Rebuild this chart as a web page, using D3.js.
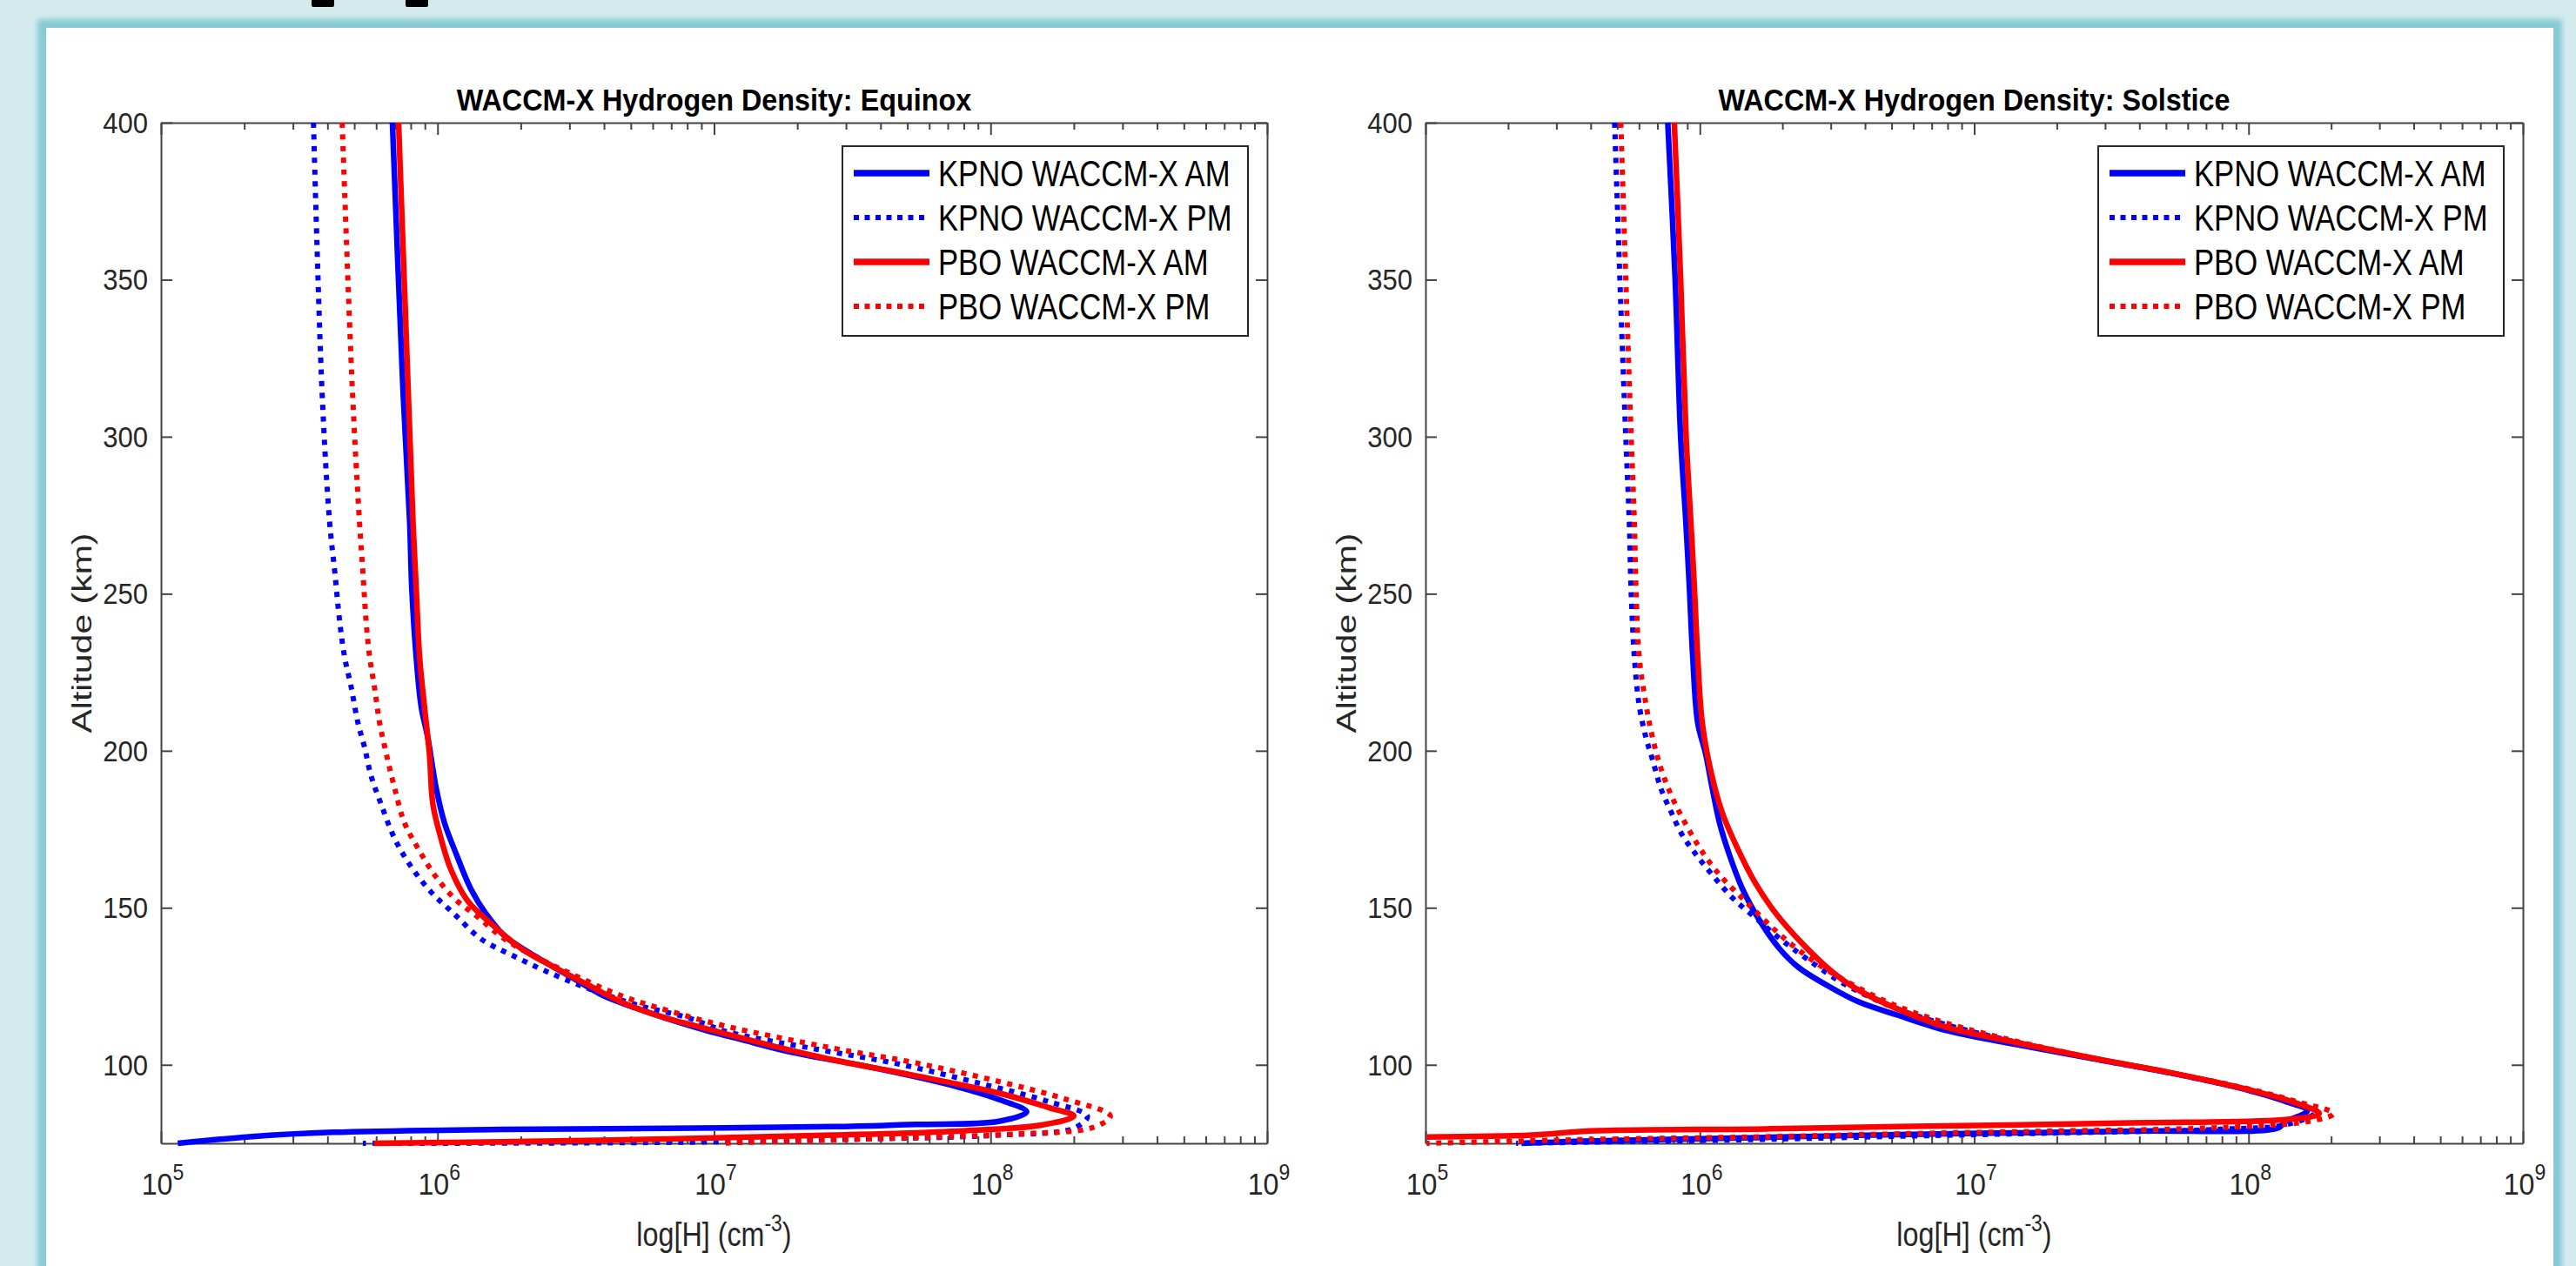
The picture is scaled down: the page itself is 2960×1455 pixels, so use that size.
<!DOCTYPE html>
<html>
<head>
<meta charset="utf-8">
<script src="https://cdn.jsdelivr.net/npm/d3@7"></script>
<style>
  html, body { margin: 0; padding: 0; background: #d4ebee; }
  svg { display: block; }
  text { font-family: "Liberation Sans", Arial, Helvetica, sans-serif; }
</style>
</head>
<body>
<svg id="chart"></svg>
<script>
// [altitude km, H density cm^-3]
const equinoxKpnoAm = [[400,6.87e5],[315,7.50e5],[273,7.93e5],[252,8.07e5],[230,8.37e5],[214,8.73e5],[204,9.23e5],[188,9.89e5],[177,1.06e6],[167,1.17e6],[156,1.32e6],[148,1.50e6],[141,1.75e6],[134,2.31e6],[128,3.04e6],[122,3.98e6],[118,5.25e6],[115,6.61e6],[111,9.33e6],[108,1.26e7],[104,1.91e7],[99,3.80e7],[93,7.59e7],[89,1.07e8],[85,1.35e8],[82,1.07e8],[81,5.37e7],[80.3,2.69e7],[79.8,6.76e6],[79.4,1.70e6],[78.5,4.17e5],[77.1,2.09e5],[75,1.15e5]];
const equinoxKpnoPm = [[400,3.56e5],[315,3.82e5],[273,4.07e5],[257,4.25e5],[241,4.43e5],[230,4.61e5],[220,4.88e5],[209,5.15e5],[201,5.45e5],[192,5.75e5],[183,6.25e5],[172,7.00e5],[163,8.04e5],[155,9.48e5],[148,1.15e6],[140,1.44e6],[135,1.85e6],[130,2.44e6],[124.4,3.49e6],[119,5.30e6],[115,8.04e6],[110.5,1.12e7],[105,2.34e7],[100.2,4.68e7],[93.9,9.33e7],[88.3,1.62e8],[83.6,2.24e8],[79.8,2.0e8],[77.6,1.07e8],[76.2,2.69e7],[75.3,6.76e6],[75,5.37e5]];
const equinoxPboAm = [[400,7.23e5],[315,7.83e5],[273,8.15e5],[252,8.37e5],[230,8.61e5],[214,8.97e5],[199,9.35e5],[183,9.62e5],[172,1.03e6],[162,1.12e6],[152,1.29e6],[145,1.56e6],[137,2.01e6],[131,2.65e6],[125.5,3.49e6],[120,4.61e6],[116,6.08e6],[112,8.90e6],[106.5,1.55e7],[101.6,2.69e7],[96.5,5.37e7],[91,1.07e8],[86.4,1.62e8],[83.7,2.0e8],[80.8,1.53e8],[78.9,7.59e7],[77.6,2.69e7],[76.4,6.76e6],[75.5,1.70e6],[75,5.89e5]];
const equinoxPboPm = [[400,4.52e5],[315,4.92e5],[273,5.22e5],[257,5.37e5],[241,5.52e5],[230,5.68e5],[220,5.92e5],[209,6.17e5],[199,6.53e5],[188,7.00e5],[177,7.60e5],[169,8.49e5],[160.5,9.75e5],[153,1.15e6],[147,1.40e6],[140,1.75e6],[134,2.31e6],[129,3.04e6],[122,4.61e6],[117,6.98e6],[112.5,1.08e7],[105.3,2.69e7],[100.6,5.37e7],[94.7,1.07e8],[89.1,1.86e8],[83.7,2.71e8],[80,2.34e8],[78,1.26e8],[76.5,3.98e7],[75.3,1.26e7],[75,1.05e7]];

const solsticeKpnoAm = [[400,7.64e5],[350,8.13e5],[300,8.51e5],[273,8.89e5],[252,9.16e5],[230,9.42e5],[209,9.82e5],[199,1.05e6],[188,1.11e6],[177,1.18e6],[167,1.28e6],[156,1.43e6],[146,1.65e6],[137,1.95e6],[131,2.29e6],[125,2.95e6],[120,3.80e6],[116,5.18e6],[111,7.87e6],[107,1.32e7],[102,2.69e7],[97.4,5.20e7],[91.9,1.0e8],[88.2,1.38e8],[85.4,1.64e8],[81.7,1.35e8],[80,1.29e8],[78.9,3.75e7],[77.8,5.22e6],[76.9,1.75e6],[75.7,3.78e5],[75,2.24e5]];
const solsticeKpnoPm = [[400,4.89e5],[342,5.15e5],[300,5.37e5],[273,5.53e5],[252,5.61e5],[230,5.77e5],[214.5,6.01e5],[204,6.37e5],[197,6.73e5],[188,7.21e5],[180.6,7.85e5],[173,8.65e5],[167,9.68e5],[160.5,1.11e6],[153,1.32e6],[146.7,1.60e6],[140.3,1.95e6],[134,2.43e6],[125.5,3.40e6],[118,5.18e6],[112.8,7.87e6],[107.5,1.38e7],[102,2.69e7],[97.4,5.20e7],[91.9,1.0e8],[88,1.41e8],[84.8,1.74e8],[81,1.38e8],[79.5,7.94e7],[78.3,2.0e7],[77.2,5.0e6],[76.2,1.58e6],[75.4,3.98e5],[75,2.14e5]];
const solsticePboAm = [[400,8.07e5],[350,8.51e5],[300,8.91e5],[273,9.27e5],[252,9.55e5],[230,9.82e5],[209,1.02e6],[193,1.10e6],[180,1.21e6],[169,1.37e6],[158,1.59e6],[148,1.90e6],[138,2.40e6],[130,3.00e6],[124,3.75e6],[118,5.18e6],[112,7.87e6],[107.5,1.35e7],[102,2.75e7],[97.4,5.25e7],[91.9,1.02e8],[88.2,1.45e8],[84.5,1.81e8],[82.6,1.39e8],[81.5,3.75e7],[80.3,5.22e6],[79.6,1.75e6],[78.9,3.85e5],[77.6,2.44e5],[77,1.01e5]];
const solsticePboPm = [[400,5.15e5],[342,5.41e5],[300,5.62e5],[273,5.77e5],[252,5.85e5],[230,6.01e5],[214.5,6.37e5],[204,6.73e5],[194.4,7.21e5],[186,7.85e5],[178.5,8.65e5],[171,9.68e5],[164.7,1.08e6],[158.4,1.24e6],[152,1.47e6],[144.6,1.79e6],[137.2,2.24e6],[129.8,2.96e6],[121.2,4.50e6],[115,6.84e6],[108.6,1.26e7],[102,2.75e7],[97.4,5.25e7],[91.9,1.05e8],[88.2,1.51e8],[84.5,2.04e8],[82,1.66e8],[79.9,7.23e7],[78.9,1.94e7],[78,5.22e6],[77.1,1.75e6],[76.2,3.85e5],[75,1.01e5]];

const seriesNames  = ['KPNO WACCM-X AM', 'KPNO WACCM-X PM', 'PBO WACCM-X AM', 'PBO WACCM-X PM'];
const seriesColors = ['#0000ff', '#0000ff', '#ff0000', '#ff0000'];
const seriesDotted = [false, true, false, true];
const panelTitles  = ['WACCM-X Hydrogen Density: Equinox', 'WACCM-X Hydrogen Density: Solstice'];
const altTicks     = [100, 150, 200, 250, 300, 350, 400];
const altDomain    = [75, 400];
const densDecades  = [1e5, 1e6, 1e7, 1e8, 1e9];
const densMinor    = [1e5, 1e6, 1e7, 1e8].flatMap(d => [2, 3, 4, 5, 6, 7, 8, 9].map(m => m * d));

const W = 2960, H = 1455;
const plotTop = 141, plotBottom = 1314;
const panels = [
  { x0: 185,  x1: 1456, title: panelTitles[0], series: [equinoxKpnoAm, equinoxKpnoPm, equinoxPboAm, equinoxPboPm] },
  { x0: 1638, x1: 2899, title: panelTitles[1], series: [solsticeKpnoAm, solsticeKpnoPm, solsticePboAm, solsticePboPm] }
];
const axisC = '#444';
const textC = '#262626';

const svg = d3.select('#chart').attr('width', W).attr('height', H);

// slide frame
svg.append('defs').append('filter').attr('id', 'soft')
  .append('feGaussianBlur').attr('stdDeviation', 3);
svg.append('rect').attr('width', W).attr('height', H).attr('fill', '#d4ebee');
svg.append('rect').attr('x', 43).attr('y', 22).attr('width', 2901).attr('height', H)
  .attr('fill', '#86cad3').attr('filter', 'url(#soft)');
svg.append('rect').attr('x', 53).attr('y', 32).attr('width', 2881).attr('height', H)
  .attr('fill', '#fff');
// bits of the cut-off slide heading
[358, 466].forEach(bx => {
  svg.append('rect').attr('x', bx).attr('y', -4).attr('width', 26).attr('height', 12)
    .attr('rx', 2).attr('fill', '#000');
});

panels.forEach((p) => {
  const x = d3.scaleLog().domain([densDecades[0], densDecades[densDecades.length - 1]]).range([p.x0, p.x1]);
  const y = d3.scaleLinear().domain(altDomain).range([plotBottom, plotTop]);
  const g = svg.append('g');
  const midX = (p.x0 + p.x1) / 2;

  // axes box + ticks (inward)
  const styleAxis = (a) => {
    a.attr('color', axisC);
    a.selectAll('line, path').attr('stroke-width', 2);
    a.selectAll('text').remove();
  };
  g.append('g').attr('transform', `translate(${p.x0},0)`)
    .call(d3.axisLeft(y).tickValues(altTicks).tickSizeInner(-13).tickSizeOuter(0).tickFormat(''))
    .call(styleAxis);
  g.append('g').attr('transform', `translate(${p.x1},0)`)
    .call(d3.axisRight(y).tickValues(altTicks).tickSizeInner(-13).tickSizeOuter(0).tickFormat(''))
    .call(styleAxis);
  g.append('g').attr('transform', `translate(0,${plotBottom})`)
    .call(d3.axisBottom(x).tickValues(densDecades).tickSizeInner(-14).tickSizeOuter(0).tickFormat(''))
    .call(styleAxis);
  g.append('g').attr('transform', `translate(0,${plotTop})`)
    .call(d3.axisTop(x).tickValues(densDecades).tickSizeInner(-14).tickSizeOuter(0).tickFormat(''))
    .call(styleAxis);
  [[plotBottom, d3.axisBottom], [plotTop, d3.axisTop]].forEach(([ty, ax]) => {
    g.append('g').attr('transform', `translate(0,${ty})`)
      .call(ax(x).tickValues(densMinor).tickSizeInner(-8).tickSizeOuter(0).tickFormat(''))
      .call(styleAxis)
      .call(a => a.select('.domain').remove());
  });

  // y tick labels
  altTicks.forEach(v => {
    g.append('g').attr('transform', `translate(${p.x0 - 15},${y(v) + 12}) scale(0.94,1)`)
      .append('text').attr('text-anchor', 'end').attr('font-size', 33).attr('fill', textC).text(v);
  });

  // x tick labels 10^n
  densDecades.forEach(v => {
    const t = g.append('g').attr('transform', `translate(${x(v) + 2},1373) scale(0.92,1)`)
      .append('text').attr('text-anchor', 'middle').attr('fill', textC);
    t.append('tspan').attr('font-size', 35).text('10');
    t.append('tspan').attr('font-size', 25).attr('dy', -17).text(Math.round(Math.log10(v)));
  });

  // axis labels
  const xl = g.append('g').attr('transform', `translate(${midX},1432) scale(0.85,1)`)
    .append('text').attr('text-anchor', 'middle').attr('font-size', 38).attr('fill', textC);
  xl.append('tspan').text('log[H] (cm');
  xl.append('tspan').attr('font-size', 27).attr('dy', -17).text('-3');
  xl.append('tspan').attr('dy', 17).text(')');

  g.append('g').attr('transform', `translate(${p.x0 - 80},${(plotTop + plotBottom) / 2}) scale(0.78,1) rotate(-90)`)
    .append('text').attr('text-anchor', 'middle').attr('font-size', 41).attr('fill', textC)
    .text('Altitude (km)');

  g.append('g').attr('transform', `translate(${midX},127) scale(0.925,1)`)
    .append('text').attr('text-anchor', 'middle').attr('font-size', 35).attr('font-weight', 'bold')
    .attr('fill', '#000').text(p.title);

  // profiles
  const line = d3.line()
    .x(d => x(d[1]))
    .y(d => y(d[0]))
    .curve(d3.curveCatmullRom.alpha(0.5));
  p.series.forEach((s, k) => {
    g.append('path').datum(s).attr('d', line)
      .attr('fill', 'none')
      .attr('stroke', seriesColors[k])
      .attr('stroke-width', seriesDotted[k] ? 6 : 6.5)
      .attr('stroke-dasharray', seriesDotted[k] ? '6 7.5' : null)
      .attr('stroke-linejoin', 'round');
  });

  // legend
  const lw = 466, lh = 218;
  const lx = p.x1 - 22 - lw, ly = 168;
  const lg = g.append('g');
  lg.append('rect').attr('x', lx).attr('y', ly).attr('width', lw).attr('height', lh)
    .attr('fill', '#fff').attr('stroke', textC).attr('stroke-width', 2);
  seriesNames.forEach((name, k) => {
    const cy = ly + 31 + k * 51;
    lg.append('line').attr('x1', lx + 13).attr('x2', lx + 100).attr('y1', cy).attr('y2', cy)
      .attr('stroke', seriesColors[k])
      .attr('stroke-width', seriesDotted[k] ? 6 : 7.5)
      .attr('stroke-dasharray', seriesDotted[k] ? '6 6.5' : null);
    lg.append('g').attr('transform', `translate(${lx + 110},${cy + 15}) scale(0.825,1)`)
      .append('text').attr('font-size', 42).attr('fill', '#000').text(name);
  });
});
</script>
</body>
</html>
